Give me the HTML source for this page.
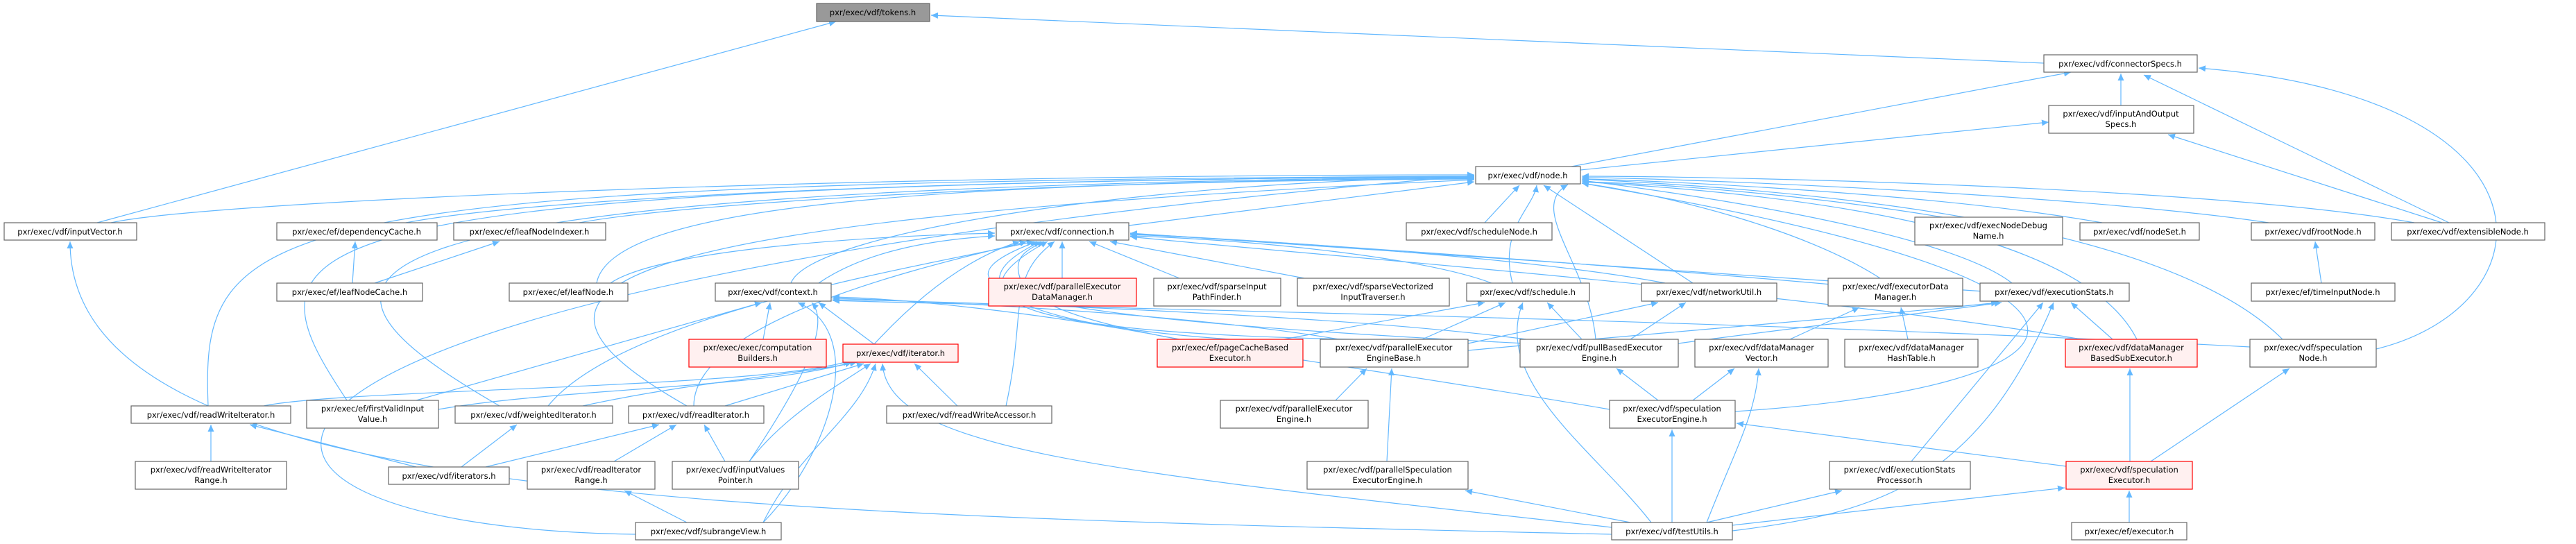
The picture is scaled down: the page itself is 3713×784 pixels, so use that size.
<!DOCTYPE html>
<html><head><meta charset="utf-8"><style>
html,body{margin:0;padding:0;background:#fff;}
svg{display:block;}
text{font-family:"DejaVu Sans","Liberation Sans",sans-serif;font-size:11.5px;fill:#000;text-anchor:middle;}
.e{fill:none;stroke:#63b8ff;stroke-width:1.2;marker-end:url(#a);}
.n{fill:#fff;stroke:#666;stroke-width:1.2;}
.r{fill:#fff0f0;stroke:#f00;stroke-width:1.2;}
.g{fill:#999;stroke:#666;stroke-width:1.2;}
</style></head><body>
<svg width="3713" height="784" viewBox="0 0 3713 784" xmlns="http://www.w3.org/2000/svg">
<defs><marker id="a" markerUnits="userSpaceOnUse" markerWidth="11" markerHeight="9" refX="10" refY="4.5" orient="auto"><path d="M0,0 L10,4.5 L0,9 z" fill="#63b8ff"/></marker></defs>
<g>
<path class="e" d="M2946 91 L1342 22"/>
<path class="e" d="M140 321 L1205 31"/>
<path class="e" d="M3057 152 L3057 106"/>
<path class="e" d="M2265 240 L2985 104"/>
<path class="e" d="M2278 245 L2953 176"/>
<path class="e" d="M3530 321 L3090 108"/>
<path class="e" d="M3520 321 L3125 194"/>
<path class="e" d="M3425 503 C3680 440,3700 140,3169 98"/>
<path class="e" d="M160 321 C300 290,1200 252,2125 252"/>
<path class="e" d="M1627 325 L2125 262"/>
<path class="e" d="M2140 321 L2190 267"/>
<path class="e" d="M1140 408 C1170 330,1700 258,2125 256"/>
<path class="e" d="M585 321 C800 280,1500 256,2125 255"/>
<path class="e" d="M835 321 C1000 290,1600 258,2125 257"/>
<path class="e" d="M860 408 C880 300,1300 262,2125 258"/>
<path class="e" d="M300 585 C290 320,350 262,2125 254"/>
<path class="e" d="M500 577 C350 350,340 268,2125 254"/>
<path class="e" d="M720 585 C400 400,360 272,2125 255"/>
<path class="e" d="M990 585 C700 420,800 320,2125 259"/>
<path class="e" d="M916 770 C200 760,150 420,2125 253"/>
<path class="e" d="M2323 770 C1000 740,100 720,101 348"/>
<path class="e" d="M2800 313 C2600 280,2400 265,2280 262"/>
<path class="e" d="M3030 321 C2800 280,2400 260,2280 258"/>
<path class="e" d="M3270 321 C3000 280,2400 256,2280 256"/>
<path class="e" d="M3480 321 C3200 270,2500 254,2280 254"/>
<path class="e" d="M2180 408 C2160 330,2210 300,2215 267"/>
<path class="e" d="M2440 408 L2225 267"/>
<path class="e" d="M2710 401 C2600 330,2400 280,2280 264"/>
<path class="e" d="M2900 408 C2800 330,2400 275,2280 260"/>
<path class="e" d="M3080 489 C3000 330,2600 280,2280 262"/>
<path class="e" d="M3290 489 C3100 300,2500 270,2280 258"/>
<path class="e" d="M2501 593 C3000 560,3200 420,2280 264"/>
<path class="e" d="M2300 489 C2290 380,2200 300,2260 266"/>
<path class="e" d="M1180 408 C1250 360,1350 345,1434 340"/>
<path class="e" d="M880 408 C950 360,1250 340,1434 336"/>
<path class="e" d="M1531 401 L1531 348"/>
<path class="e" d="M1700 401 L1570 348"/>
<path class="e" d="M1880 401 L1600 348"/>
<path class="e" d="M2150 408 C2050 370,1800 345,1629 340"/>
<path class="e" d="M2400 408 C2200 370,1800 345,1629 338"/>
<path class="e" d="M2640 410 C2300 380,1800 345,1629 337"/>
<path class="e" d="M2860 420 C2400 390,1800 345,1629 336"/>
<path class="e" d="M1260 496 C1330 420,1400 370,1470 348"/>
<path class="e" d="M1000 585 C1000 450,1400 370,1480 348"/>
<path class="e" d="M790 585 C900 450,1350 380,1490 348"/>
<path class="e" d="M1773 489 C1500 470,1350 420,1500 348"/>
<path class="e" d="M1950 489 C1500 480,1340 440,1510 348"/>
<path class="e" d="M2200 495 C1500 460,1300 420,1495 348"/>
<path class="e" d="M3000 489 C2600 420,1800 360,1629 341"/>
<path class="e" d="M2320 590 C1800 500,1500 480,1470 400 C1460 370,1480 360,1505 348"/>
<path class="e" d="M1450 585 C1480 450,1450 400,1520 348"/>
<path class="e" d="M508 408 L512 348"/>
<path class="e" d="M540 408 L720 348"/>
<path class="e" d="M1100 489 L1110 436"/>
<path class="e" d="M1260 496 L1180 436"/>
<path class="e" d="M600 577 L1098 436"/>
<path class="e" d="M1700 489 C1500 450,1300 430,1200 428"/>
<path class="e" d="M1930 489 C1700 450,1300 432,1200 430"/>
<path class="e" d="M2200 489 C1900 450,1300 432,1200 432"/>
<path class="e" d="M3243 500 C2500 460,1400 440,1200 433"/>
<path class="e" d="M1080 665 C1150 560,1200 470,1170 436"/>
<path class="e" d="M1100 753 C1200 650,1250 480,1150 436"/>
<path class="e" d="M380 585 C500 560,1100 560,1225 520"/>
<path class="e" d="M632 590 C800 560,1100 560,1228 522"/>
<path class="e" d="M840 585 C1000 550,1150 540,1235 522"/>
<path class="e" d="M1045 585 L1245 524"/>
<path class="e" d="M1380 585 L1318 524"/>
<path class="e" d="M1080 665 C1130 600,1200 560,1255 524"/>
<path class="e" d="M1100 753 C1150 650,1240 600,1262 524"/>
<path class="e" d="M2323 760 C1600 680,1280 650,1272 524"/>
<path class="e" d="M304 665 L304 612"/>
<path class="e" d="M600 673 L360 612"/>
<path class="e" d="M665 673 L745 612"/>
<path class="e" d="M700 673 L950 612"/>
<path class="e" d="M885 665 L975 612"/>
<path class="e" d="M1045 665 L1015 612"/>
<path class="e" d="M990 753 L900 707"/>
<path class="e" d="M1850 489 L2140 436"/>
<path class="e" d="M2050 489 L2170 436"/>
<path class="e" d="M2280 489 L2230 436"/>
<path class="e" d="M2380 753 C2300 650,2150 550,2195 436"/>
<path class="e" d="M2116 495 L2390 436"/>
<path class="e" d="M2350 489 L2430 436"/>
<path class="e" d="M2390 577 L2330 531"/>
<path class="e" d="M2440 577 L2500 531"/>
<path class="e" d="M2460 753 C2500 650,2530 600,2535 531"/>
<path class="e" d="M2580 489 L2680 443"/>
<path class="e" d="M2750 489 L2740 443"/>
<path class="e" d="M2116 505 C2500 470,2700 455,2880 436"/>
<path class="e" d="M2419 495 C2600 470,2750 455,2885 436"/>
<path class="e" d="M2755 665 L2945 436"/>
<path class="e" d="M2497 765 C2700 740,2850 700,2960 436"/>
<path class="e" d="M3045 489 L2985 436"/>
<path class="e" d="M3070 665 L3070 531"/>
<path class="e" d="M3100 665 L3300 531"/>
<path class="e" d="M2978 672 L2503 610"/>
<path class="e" d="M2497 757 L2976 703"/>
<path class="e" d="M2460 753 L2655 707"/>
<path class="e" d="M2350 753 L2112 707"/>
<path class="e" d="M2410 753 L2410 619"/>
<path class="e" d="M1925 577 L1970 531"/>
<path class="e" d="M1999 665 L2006 531"/>
<path class="e" d="M3346 408 L3337 348"/>
<path class="e" d="M3069 753 L3069 707"/>
</g>
<g>
<rect class="g" x="1177" y="5" width="163" height="26"/><text x="1258" y="22">pxr/exec/vdf/tokens.h</text>
<rect class="n" x="6" y="321" width="191" height="25"/><text x="101" y="338">pxr/exec/vdf/inputVector.h</text>
<rect class="n" x="399" y="321" width="231" height="25"/><text x="514" y="338">pxr/exec/ef/dependencyCache.h</text>
<rect class="n" x="654" y="321" width="219" height="25"/><text x="763" y="338">pxr/exec/ef/leafNodeIndexer.h</text>
<rect class="n" x="1436" y="321" width="191" height="25"/><text x="1531" y="338">pxr/exec/vdf/connection.h</text>
<rect class="n" x="2027" y="321" width="210" height="25"/><text x="2132" y="338">pxr/exec/vdf/scheduleNode.h</text>
<rect class="n" x="2127" y="240" width="151" height="25"/><text x="2202" y="257">pxr/exec/vdf/node.h</text>
<rect class="n" x="2946" y="79" width="221" height="25"/><text x="3056" y="96">pxr/exec/vdf/connectorSpecs.h</text>
<rect class="n" x="2953" y="152" width="209" height="40"/><text x="3057" y="168">pxr/exec/vdf/inputAndOutput</text><text x="3057" y="183">Specs.h</text>
<rect class="n" x="2760" y="313" width="213" height="40"/><text x="2866" y="329">pxr/exec/vdf/execNodeDebug</text><text x="2866" y="344">Name.h</text>
<rect class="n" x="2998" y="321" width="172" height="25"/><text x="3084" y="338">pxr/exec/vdf/nodeSet.h</text>
<rect class="n" x="3245" y="321" width="178" height="25"/><text x="3334" y="338">pxr/exec/vdf/rootNode.h</text>
<rect class="n" x="3447" y="321" width="221" height="25"/><text x="3557" y="338">pxr/exec/vdf/extensibleNode.h</text>
<rect class="n" x="399" y="408" width="210" height="26"/><text x="504" y="425">pxr/exec/ef/leafNodeCache.h</text>
<rect class="n" x="734" y="408" width="171" height="26"/><text x="819" y="425">pxr/exec/ef/leafNode.h</text>
<rect class="n" x="1031" y="408" width="167" height="26"/><text x="1114" y="425">pxr/exec/vdf/context.h</text>
<rect class="r" x="1425" y="401" width="213" height="40"/><text x="1531" y="417">pxr/exec/vdf/parallelExecutor</text><text x="1531" y="432">DataManager.h</text>
<rect class="n" x="1663" y="401" width="183" height="40"/><text x="1754" y="417">pxr/exec/vdf/sparseInput</text><text x="1754" y="432">PathFinder.h</text>
<rect class="n" x="1870" y="401" width="219" height="40"/><text x="1979" y="417">pxr/exec/vdf/sparseVectorized</text><text x="1979" y="432">InputTraverser.h</text>
<rect class="n" x="2114" y="408" width="177" height="26"/><text x="2202" y="425">pxr/exec/vdf/schedule.h</text>
<rect class="n" x="2366" y="408" width="195" height="26"/><text x="2463" y="425">pxr/exec/vdf/networkUtil.h</text>
<rect class="n" x="2635" y="401" width="194" height="40"/><text x="2732" y="417">pxr/exec/vdf/executorData</text><text x="2732" y="432">Manager.h</text>
<rect class="n" x="2854" y="408" width="215" height="26"/><text x="2961" y="425">pxr/exec/vdf/executionStats.h</text>
<rect class="n" x="3245" y="408" width="207" height="26"/><text x="3348" y="425">pxr/exec/ef/timeInputNode.h</text>
<rect class="r" x="993" y="489" width="198" height="40"/><text x="1092" y="505">pxr/exec/exec/computation</text><text x="1092" y="520">Builders.h</text>
<rect class="r" x="1215" y="496" width="166" height="26"/><text x="1298" y="513">pxr/exec/vdf/iterator.h</text>
<rect class="r" x="1668" y="489" width="210" height="40"/><text x="1773" y="505">pxr/exec/ef/pageCacheBased</text><text x="1773" y="520">Executor.h</text>
<rect class="n" x="1903" y="489" width="213" height="40"/><text x="2009" y="505">pxr/exec/vdf/parallelExecutor</text><text x="2009" y="520">EngineBase.h</text>
<rect class="n" x="2191" y="489" width="228" height="40"/><text x="2305" y="505">pxr/exec/vdf/pullBasedExecutor</text><text x="2305" y="520">Engine.h</text>
<rect class="n" x="2443" y="489" width="192" height="40"/><text x="2539" y="505">pxr/exec/vdf/dataManager</text><text x="2539" y="520">Vector.h</text>
<rect class="n" x="2659" y="489" width="192" height="40"/><text x="2755" y="505">pxr/exec/vdf/dataManager</text><text x="2755" y="520">HashTable.h</text>
<rect class="r" x="2977" y="489" width="190" height="40"/><text x="3072" y="505">pxr/exec/vdf/dataManager</text><text x="3072" y="520">BasedSubExecutor.h</text>
<rect class="n" x="3243" y="489" width="182" height="40"/><text x="3334" y="505">pxr/exec/vdf/speculation</text><text x="3334" y="520">Node.h</text>
<rect class="n" x="189" y="585" width="230" height="25"/><text x="304" y="602">pxr/exec/vdf/readWriteIterator.h</text>
<rect class="n" x="442" y="577" width="190" height="40"/><text x="537" y="593">pxr/exec/ef/firstValidInput</text><text x="537" y="608">Value.h</text>
<rect class="n" x="656" y="585" width="227" height="25"/><text x="769" y="602">pxr/exec/vdf/weightedIterator.h</text>
<rect class="n" x="906" y="585" width="195" height="25"/><text x="1003" y="602">pxr/exec/vdf/readIterator.h</text>
<rect class="n" x="1278" y="585" width="238" height="25"/><text x="1397" y="602">pxr/exec/vdf/readWriteAccessor.h</text>
<rect class="n" x="1759" y="577" width="213" height="40"/><text x="1865" y="593">pxr/exec/vdf/parallelExecutor</text><text x="1865" y="608">Engine.h</text>
<rect class="n" x="2320" y="577" width="181" height="40"/><text x="2410" y="593">pxr/exec/vdf/speculation</text><text x="2410" y="608">ExecutorEngine.h</text>
<rect class="n" x="195" y="665" width="218" height="40"/><text x="304" y="681">pxr/exec/vdf/readWriteIterator</text><text x="304" y="696">Range.h</text>
<rect class="n" x="560" y="673" width="174" height="25"/><text x="647" y="690">pxr/exec/vdf/iterators.h</text>
<rect class="n" x="760" y="665" width="184" height="40"/><text x="852" y="681">pxr/exec/vdf/readIterator</text><text x="852" y="696">Range.h</text>
<rect class="n" x="969" y="665" width="182" height="40"/><text x="1060" y="681">pxr/exec/vdf/inputValues</text><text x="1060" y="696">Pointer.h</text>
<rect class="n" x="1884" y="665" width="232" height="40"/><text x="2000" y="681">pxr/exec/vdf/parallelSpeculation</text><text x="2000" y="696">ExecutorEngine.h</text>
<rect class="n" x="2637" y="665" width="203" height="40"/><text x="2738" y="681">pxr/exec/vdf/executionStats</text><text x="2738" y="696">Processor.h</text>
<rect class="r" x="2978" y="665" width="182" height="40"/><text x="3069" y="681">pxr/exec/vdf/speculation</text><text x="3069" y="696">Executor.h</text>
<rect class="n" x="916" y="753" width="210" height="25"/><text x="1021" y="770">pxr/exec/vdf/subrangeView.h</text>
<rect class="n" x="2323" y="753" width="174" height="25"/><text x="2410" y="770">pxr/exec/vdf/testUtils.h</text>
<rect class="n" x="2986" y="753" width="166" height="25"/><text x="3069" y="770">pxr/exec/ef/executor.h</text>
</g>
</svg>
</body></html>
